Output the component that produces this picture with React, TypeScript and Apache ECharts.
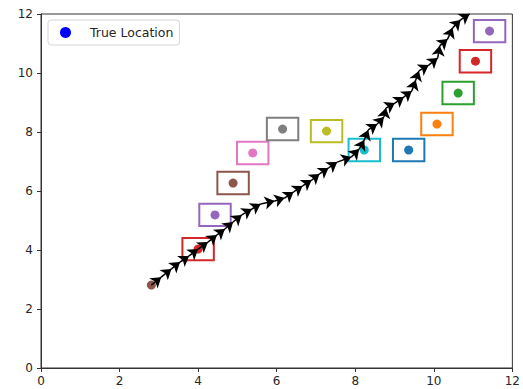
import React, { useEffect, useRef } from "react";
import * as echarts from "echarts";

// Estimated robot path (quiver chain)
const pathX = [2.81, 3.06, 3.32, 3.54, 3.77, 4.0, 4.25, 4.48, 4.68, 4.89, 5.11, 5.37, 5.59, 5.95, 6.2, 6.43, 6.66, 6.89, 7.09, 7.32, 7.54, 7.9, 8.1, 8.23, 8.33, 8.56, 8.73, 8.78, 9.01, 9.24, 9.44, 9.54, 9.62, 9.87, 10.1, 10.15, 10.35, 10.48, 10.68, 10.91];
const pathY = [2.81, 3.08, 3.36, 3.59, 3.8, 4.03, 4.27, 4.51, 4.71, 4.95, 5.19, 5.39, 5.56, 5.66, 5.76, 5.97, 6.17, 6.37, 6.58, 6.78, 6.98, 7.15, 7.42, 7.73, 8.07, 8.27, 8.51, 8.81, 8.98, 9.19, 9.39, 9.76, 10.07, 10.27, 10.51, 10.92, 11.15, 11.53, 11.8, 12.0];

// Landmarks (estimated locations)
const landmarkX = [4.0, 4.43, 4.89, 5.39, 6.15, 7.27, 8.23, 9.36, 10.08, 10.62, 11.06, 11.42];
const landmarkY = [4.03, 5.19, 6.27, 7.29, 8.1, 8.03, 7.39, 7.39, 8.27, 9.32, 10.4, 11.42];

const startPoint = [2.81, 2.81];
const legendLabel = "True Location";

// styles
const landmarkColors = ["#d62728", "#9467bd", "#8c564b", "#e377c2", "#7f7f7f", "#bcbd22", "#17becf", "#1f77b4", "#ff7f0e", "#2ca02c", "#d62728", "#9467bd"];
const BOX_HW = 0.4;
const BOX_HH = 0.38;

export default function App() {
  const ref = useRef<HTMLDivElement>(null);
  useEffect(() => {
    if (!ref.current) return;
    const chart = echarts.init(ref.current, null, { renderer: "svg" });
    const arrows = [];
    for (let i = 0; i < pathX.length - 1; i++) {
      arrows.push({ coords: [[pathX[i], pathY[i]], [pathX[i + 1], pathY[i + 1]]] });
    }
    const lm = landmarkX.map((x, i) => ({ value: [x, landmarkY[i]], itemStyle: { color: landmarkColors[i], opacity: 1 } }));
    const font = "DejaVu Sans, sans-serif";
    const axisCommon = {
      type: "value",
      min: 0,
      max: 12,
      interval: 2,
      splitLine: { show: false },
      axisLine: { show: true, onZero: false, lineStyle: { color: "#333", width: 1 } },
      axisTick: { show: true, inside: false, length: 4, lineStyle: { color: "#333" } },
      axisLabel: { color: "#262626", fontSize: 12, fontFamily: font },
    };
    chart.setOption({
      animation: false,
      grid: { left: 41, right: 8, top: 14, bottom: 21, show: true, borderColor: "#333", borderWidth: 1, backgroundColor: "transparent" },
      xAxis: { ...axisCommon, axisLabel: { ...axisCommon.axisLabel, margin: 7 } },
      yAxis: { ...axisCommon, axisLabel: { ...axisCommon.axisLabel, margin: 8 } },
      legend: {
        data: [legendLabel],
        left: 48,
        top: 20,
        orient: "vertical",
        icon: "circle",
        itemWidth: 11,
        itemHeight: 11,
        padding: [6, 6, 6, 12],
        backgroundColor: "#fff",
        borderColor: "#d5d5d5",
        borderWidth: 1,
        borderRadius: 3,
        textStyle: { fontSize: 12.5, fontFamily: font, color: "#262626", padding: [0, 0, 0, 14] },
      },
      series: [
        {
          type: "custom",
          name: "boxes",
          coordinateSystem: "cartesian2d",
          silent: true,
          z: 2,
          data: landmarkX.map((x, i) => [x, landmarkY[i]]),
          renderItem: (params: any, api: any) => {
            const cx = api.value(0);
            const cy = api.value(1);
            const p1 = api.coord([cx - BOX_HW, cy + BOX_HH]);
            const p2 = api.coord([cx + BOX_HW, cy - BOX_HH]);
            return {
              type: "rect",
              shape: { x: p1[0], y: p1[1], width: p2[0] - p1[0], height: p2[1] - p1[1] },
              style: { fill: "none", stroke: landmarkColors[params.dataIndex], lineWidth: 2 },
            };
          },
        },
        {
          type: "scatter",
          name: "landmarks",
          symbolSize: 9,
          z: 3,
          data: lm,
        },
        {
          type: "scatter",
          name: "start",
          symbolSize: 9,
          z: 3,
          itemStyle: { color: "#8c564b", opacity: 1 },
          data: [startPoint],
        },
        {
          type: "lines",
          name: "path",
          coordinateSystem: "cartesian2d",
          z: 4,
          symbol: ["none", "arrow"],
          symbolSize: 10,
          lineStyle: { color: "#000", width: 1.5, opacity: 1 },
          data: arrows,
        },
        {
          type: "scatter",
          name: legendLabel,
          itemStyle: { color: "#0000ff", opacity: 1 },
          data: [],
        },
      ],
    });
    return () => chart.dispose();
  }, []);
  return <div ref={ref} style={{ width: 523, height: 389, position: "absolute", left: 0, top: 0 }} />;
}
